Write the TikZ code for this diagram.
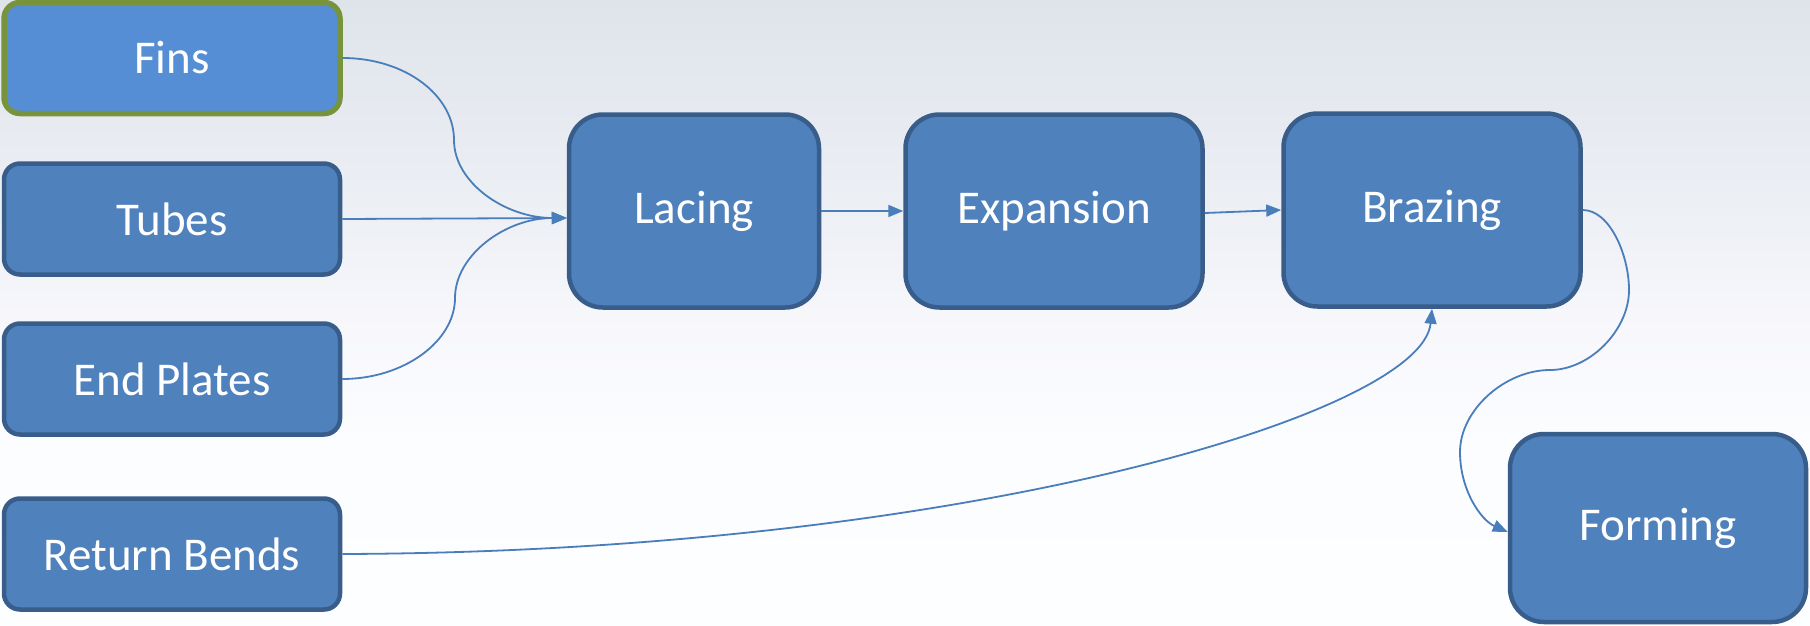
\documentclass[tikz,border=0pt]{standalone}
\usepackage{fontspec}
\setmainfont{Carlito}
\usetikzlibrary{arrows.meta}
\definecolor{boxfill}{HTML}{4F81BD}
\definecolor{bdr}{HTML}{385D8A}
\definecolor{finsfill}{HTML}{558ED5}
\definecolor{finsbdr}{HTML}{77933C}
\definecolor{conncol}{HTML}{4A7EBB}
\definecolor{bgtop}{RGB}{223,228,235}
\definecolor{bgup}{RGB}{236,239,244}
\definecolor{bgmid}{RGB}{248,248,252}
\definecolor{bglow}{RGB}{251,253,255}
\definecolor{bgbot}{RGB}{253,254,255}
\pgfdeclareverticalshading{bgshade}{100bp}{color(0bp)=(bgbot); color(25bp)=(bgbot);
  color(39bp)=(bglow); color(48.6bp)=(bgmid); color(59bp)=(bgup); color(75bp)=(bgtop); color(100bp)=(bgtop)}
\tikzset{
  box/.style={draw=bdr, fill=boxfill, line width=4.5pt, text=white,
    font=\fontsize{47}{56}\selectfont, inner sep=0pt},
  smallbox/.style={box, rounded corners=16pt, minimum width=336pt, minimum height=111pt},
  bigbox/.style={box, rounded corners=34pt, minimum height=193pt},
  conn/.style={draw=conncol, line width=1.8pt, -{Triangle[length=15pt,width=12pt]}}
}
\begin{document}
\begin{tikzpicture}[x=1pt,y=-1pt]
\useasboundingbox (0,0) rectangle (1810,626);
\shade[shading=bgshade] (0,0) rectangle (1810,626);

\node[smallbox, fill=finsfill, draw=finsbdr, line width=5.5pt] (fins) at (172,58) {Fins};
\node[smallbox] (tubes) at (172,219) {Tubes};
\node[smallbox] (plates) at (172,379) {End Plates};
\node[smallbox] (bends) at (172,554) {Return Bends};

\node[bigbox, minimum width=250pt] (lacing) at (694,211) {Lacing};
\node[bigbox, minimum width=297pt] (expansion) at (1054,211) {Expansion};
\node[bigbox, minimum width=297pt] (brazing) at (1432,210) {Brazing};
\node[bigbox, minimum width=296pt, minimum height=188pt] (forming) at (1658,528) {Forming};

\coordinate (m1) at (454,140);
\coordinate (m2) at (455,298);
\coordinate (b1) at (1629,290);
\coordinate (b2) at (1550,370);
\coordinate (b3) at (1460,452);

\draw[conn] (fins.east) .. controls +(62,0) and +(0,-45) .. (m1)
  .. controls +(0,43) and +(-61,0) .. ([yshift=-7pt]lacing.west);
\draw[conn] (tubes.east) -- ([yshift=-7pt]lacing.west);
\draw[conn] (plates.east) .. controls +(62,0) and +(0,43) .. (m2)
  .. controls +(0,-43) and +(-61,0) .. ([yshift=-7pt]lacing.west);
\draw[conn] (lacing.east) -- (expansion.west);
\draw[conn] ([yshift=-2pt]expansion.east) -- (brazing.west);
\draw[conn] (bends.east) .. controls +(620,-2) and +(-10,105) .. (brazing.south);
\draw[conn] (brazing.east) .. controls +(27,0) and +(0,-35) .. (b1)
  .. controls +(0,40) and +(40,0) .. (b2)
  .. controls +(-45,0) and +(0,-42) .. (b3)
  .. controls +(0,38) and +(-27,-12) .. ([yshift=-4pt]forming.west);
\end{tikzpicture}
\end{document}
